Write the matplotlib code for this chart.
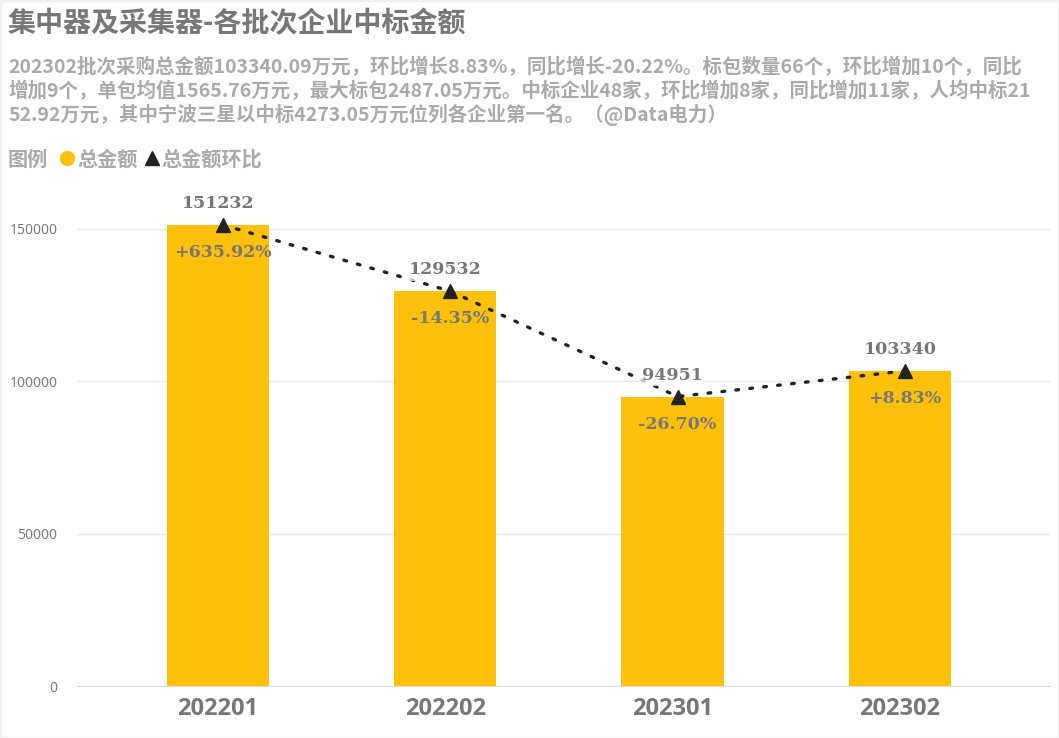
import matplotlib.pyplot as plt
from matplotlib.lines import Line2D
from matplotlib.patches import Rectangle
from matplotlib.transforms import offset_copy

plt.rcParams['font.family'] = ['Noto Sans CJK SC', 'DejaVu Sans']

# data
batches = ['202201', '202202', '202301', '202302']
totals = [151232, 129532, 94951, 103340]
qoq = ['+635.92%', '-14.35%', '-26.70%', '+8.83%']
yticks = [0, 50000, 100000, 150000]

title = '集中器及采集器-各批次企业中标金额'
subtitle = ('202302批次采购总金额103340.09万元，环比增长8.83%，同比增长-20.22%。标包数量66个，环比增加10个，同比\n'
            '增加9个，单包均值1565.76万元，最大标包2487.05万元。中标企业48家，环比增加8家，同比增加11家，人均中标21\n'
            '52.92万元，其中宁波三星以中标4273.05万元位列各企业第一名。（@Data电力）')

bar_color = '#FEC10B'
grey = '#777777'
light = '#AAAAAA'

W, H = 1059, 738
fig = plt.figure(figsize=(W / 100, H / 100), dpi=100)
fig.patch.set_facecolor('white')
fig.add_artist(Rectangle((0, 0), 1, 1, transform=fig.transFigure, fill=False,
                         edgecolor='#F0F0F0', linewidth=2.5))

ax = fig.add_axes([77 / W, 1 - 686 / H, 973 / W, 503 / H])
x = list(range(len(batches)))
ax.bar(x, totals, width=0.45, color=bar_color, zorder=2)

# line series sits a few pixels right of bar centres, like the original
shifted = offset_copy(ax.transData, fig=fig, x=5, y=0, units='dots')
ax.plot(x, totals, color='#222222', linestyle=(0, (0.8, 3.4)), linewidth=2.4,
        dash_capstyle='round', marker='^', markersize=10, zorder=3,
        transform=shifted)

for xi, v, p in zip(x, totals, qoq):
    ax.annotate(str(v), (xi, v), xytext=(0, 15.5), textcoords='offset points',
                ha='center', va='center', fontsize=12.5, fontweight='bold',
                color=grey, family='DejaVu Serif', zorder=5,
                bbox=dict(boxstyle='square,pad=0.15', fc='white', ec='none', alpha=0.75))
    ax.annotate(p, (xi, v), xycoords=shifted, xytext=(0, -20), textcoords='offset points',
                ha='center', va='center', fontsize=12.5, fontweight='bold',
                color=grey, family='DejaVu Serif', zorder=5)

ax.set_xlim(-0.62, 3.66)
ax.set_ylim(0, 165000)
ax.set_yticks(yticks)
ax.set_yticklabels([str(t) for t in yticks], fontsize=10, color=grey, family='Open Sans')
ax.set_xticks(x)
ax.set_xticklabels(batches, fontsize=17, fontweight='bold', color=grey, family='Open Sans')
ax.tick_params(axis='both', length=0)
ax.tick_params(axis='y', pad=14)
ax.tick_params(axis='x', pad=8)
ax.grid(axis='y', color='#E8E8E8', linewidth=1, zorder=0)
for s in ['top', 'right', 'left']:
    ax.spines[s].set_visible(False)
ax.spines['bottom'].set_color('#DDDDDD')

fig.text(8 / W, 1 - 24 / H, title, fontsize=20.2, fontweight='bold', color=grey,
         ha='left', va='center')
fig.text(8 / W, 1 - 57 / H, subtitle, fontsize=14, fontweight='bold', color=light,
         ha='left', va='top', linespacing=1.2)
fig.text(8 / W, 1 - 159 / H, '图例', fontsize=14.5, fontweight='bold', color=light,
         ha='left', va='center')

handles = [Line2D([], [], linestyle='none', marker='o', color=bar_color, markersize=10),
           Line2D([], [], linestyle='none', marker='^', color='#222222', markersize=10)]
fig.legend(handles, ['总金额', '总金额环比'], loc='center left',
           bbox_to_anchor=(41 / W, 1 - 159 / H), ncol=2, frameon=False,
           handlelength=0.8, handletextpad=0.1, columnspacing=0.3,
           prop={'family': 'Noto Sans CJK SC', 'weight': 'bold', 'size': 14.5},
           labelcolor=light)

fig.savefig('out.png', dpi=100)
